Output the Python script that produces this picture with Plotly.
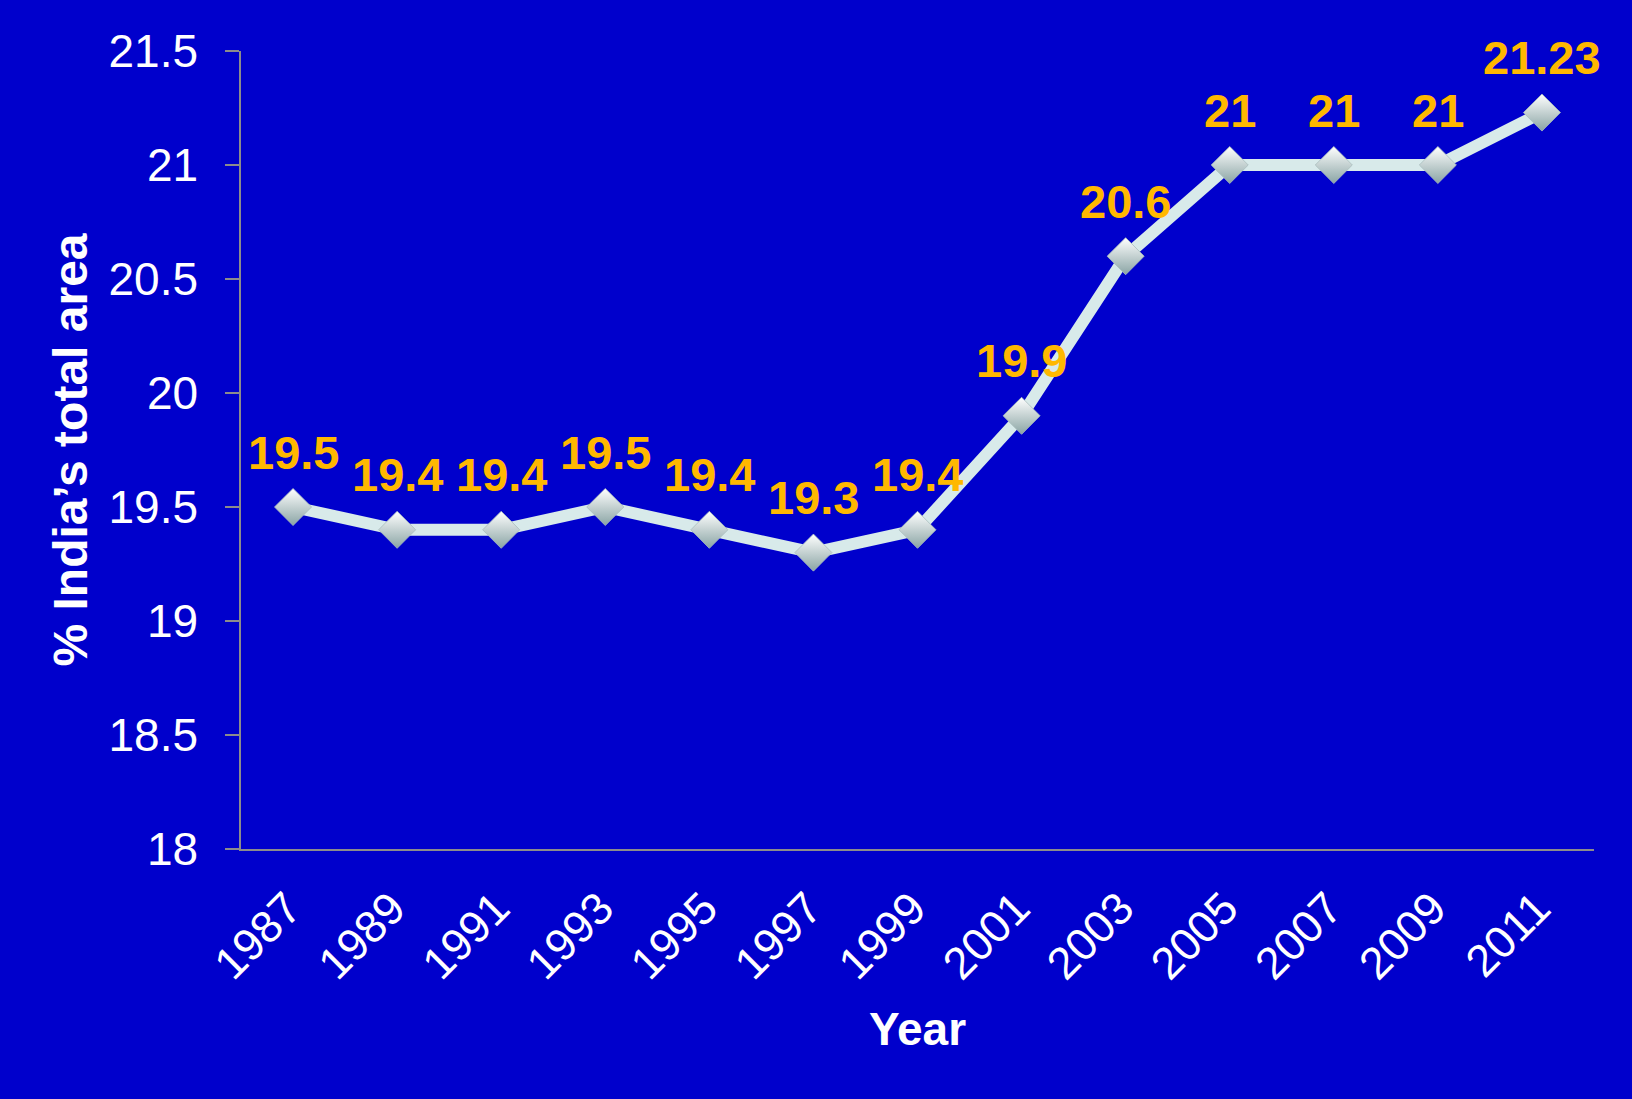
import plotly.graph_objects as go

years = [1987, 1989, 1991, 1993, 1995, 1997, 1999,
         2001, 2003, 2005, 2007, 2009, 2011]
year_labels = ["1987", "1989", "1991", "1993", "1995", "1997", "1999",
               "2001", "2003", "2005", "2007", "2009", "2011"]
forest_pct = [19.5, 19.4, 19.4, 19.5, 19.4, 19.3, 19.4,
              19.9, 20.6, 21, 21, 21, 21.23]
value_labels = ["19.5", "19.4", "19.4", "19.5", "19.4", "19.3", "19.4",
                "19.9", "20.6", "21", "21", "21", "21.23"]
y_ticks = [18, 18.5, 19, 19.5, 20, 20.5, 21, 21.5]

BG = "#0000CC"
GOLD = "#FFB800"
FONT = "Liberation Sans, Arial, sans-serif"

fig = go.Figure()
fig.add_trace(go.Scatter(
    x=years, y=forest_pct, mode="lines+markers",
    line=dict(color="#D8EAEA", width=12),
    marker=dict(symbol="diamond", size=28.5, color="#FFFFFF",
                gradient=dict(type="vertical", color="#8AA4A4"),
                line=dict(color="#A8BCBC", width=0.8)),
    hoverinfo="x+y", showlegend=False,
))

annots = []
for yr, v, t in zip(years, forest_pct, value_labels):
    annots.append(dict(x=yr, y=v, xref="x", yref="y", text="<b>" + t + "</b>",
                       showarrow=False, yanchor="middle", yshift=55,
                       font=dict(family=FONT, size=47, color=GOLD)))

fig.update_layout(
    width=1632, height=1099,
    paper_bgcolor=BG, plot_bgcolor=BG,
    margin=dict(l=241, r=38, t=51, b=250),
    font=dict(family=FONT, color="white"),
    annotations=annots,
    xaxis=dict(
        type="linear", range=[years[0] - 1, years[-1] + 1],
        tickvals=years, ticktext=year_labels,
        showline=True, linecolor="#8C8C8C", linewidth=1.5,
        showgrid=False, zeroline=False, ticks="",
        tickangle=-45, tickfont=dict(size=45, color="white", family=FONT),
        ticklabelstandoff=13, ticklabelshift=-5,
        title=dict(text="<b>Year</b>", font=dict(size=46, color="white", family=FONT),
                   standoff=25),
    ),
    yaxis=dict(
        range=[18, 21.5], tickvals=y_ticks,
        showline=True, linecolor="#8C8C8C", linewidth=1.5,
        showgrid=False, zeroline=False,
        ticks="outside", ticklen=14, tickcolor="#8C8C8C", tickwidth=1.5,
        tickfont=dict(size=46, color="white", family=FONT),
        ticklabelstandoff=18,
        title=dict(text="<b>% India’s total area</b>",
                   font=dict(size=48, color="white", family=FONT),
                   standoff=6),
    ),
)

fig.write_html("out.html")
